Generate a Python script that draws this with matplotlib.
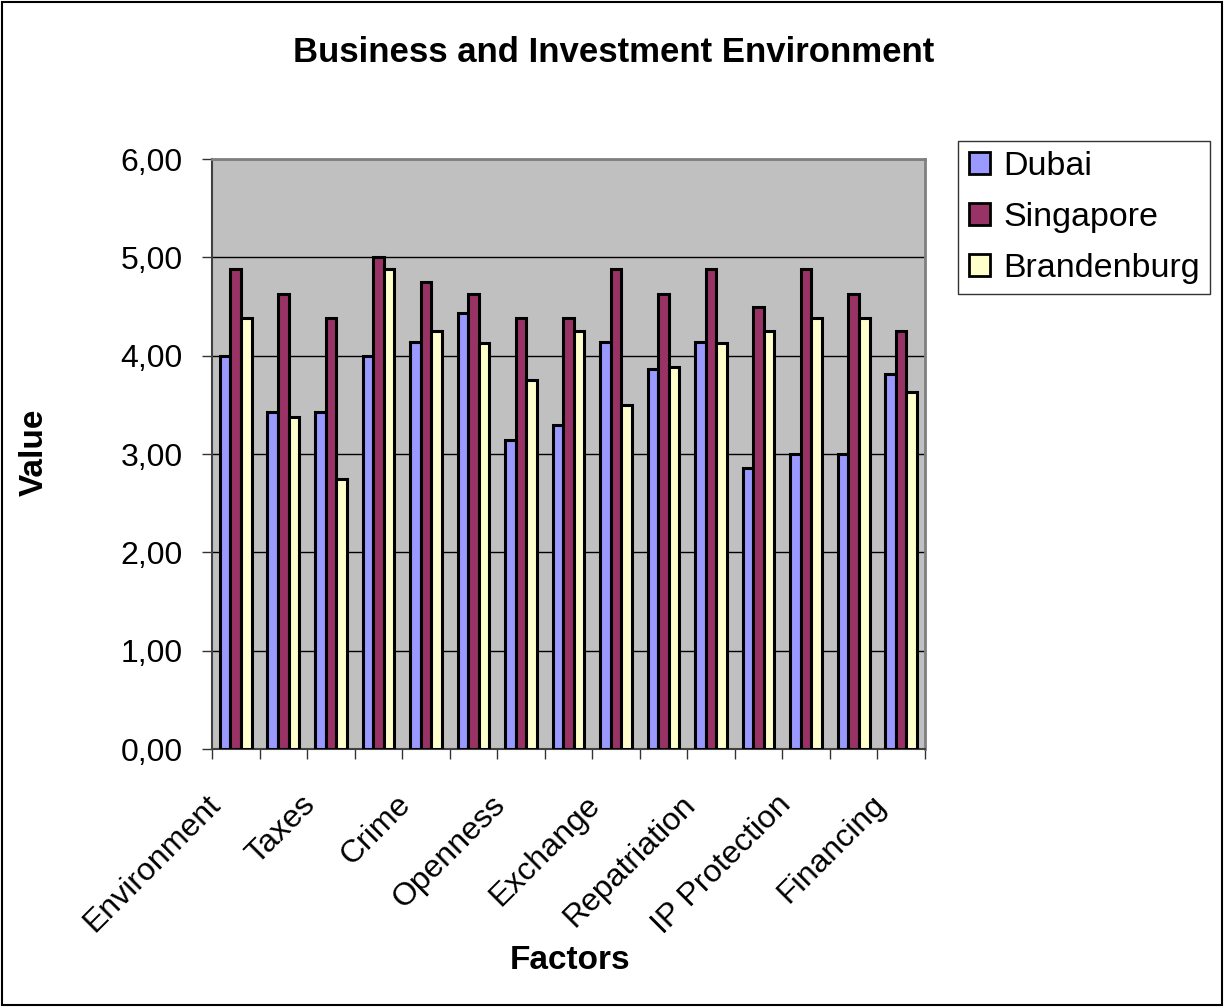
import numpy as np
import matplotlib
matplotlib.use('Agg')
import matplotlib.pyplot as plt
from matplotlib.transforms import ScaledTranslation
from matplotlib.ticker import FuncFormatter

plt.rcParams['font.family'] = ['Liberation Sans', 'DejaVu Sans']

# 15 factors, Excel only shows every second label
labels = ['Environment', '', 'Taxes', '', 'Crime', '', 'Openness', '',
          'Exchange', '', 'Repatriation', '', 'IP Protection', '', 'Financing']
dubai = [4.00, 3.43, 3.43, 4.00, 4.14, 4.43, 3.14, 3.29, 4.14, 3.86,
         4.14, 2.86, 3.00, 3.00, 3.81]
singapore = [4.88, 4.63, 4.38, 5.00, 4.75, 4.63, 4.38, 4.38, 4.88, 4.63,
             4.88, 4.50, 4.88, 4.63, 4.25]
brandenburg = [4.38, 3.38, 2.75, 4.88, 4.25, 4.13, 3.75, 4.25, 3.50, 3.88,
               4.13, 4.25, 4.38, 4.38, 3.63]
series = ['Dubai', 'Singapore', 'Brandenburg']
colors = ['#9999FF', '#993366', '#FFFFCC']

fig = plt.figure(figsize=(12.24, 10.07), dpi=100)
ax = fig.add_axes([0.1732, 0.2562, 0.5825, 0.5859])
ax.set_facecolor('#C0C0C0')

x = np.arange(len(labels))
w = 0.2222
for i, (vals, name, c) in enumerate(zip([dubai, singapore, brandenburg], series, colors)):
    ax.bar(x + (i - 1) * w, vals, w, color=c, edgecolor='black', linewidth=2.2,
           label=name, zorder=3)

ax.set_xlim(-0.5, len(labels) - 0.5)
ax.set_ylim(0, 6)
ax.set_yticks(np.arange(0, 7, 1))
ax.yaxis.set_major_formatter(FuncFormatter(lambda v, p: ('%.2f' % v).replace('.', ',')))
ax.yaxis.grid(True, color='black', linewidth=1, zorder=1)
ax.set_axisbelow(True)

# tick marks between categories, labels at the centres
ax.set_xticks(np.arange(-0.5, len(labels), 1))
ax.set_xticklabels([])
ax.set_xticks(x, minor=True)
ax.set_xticklabels(labels, minor=True, rotation=45, ha='right', va='center',
                   rotation_mode='anchor', fontsize=23)
ax.tick_params(axis='x', which='major', direction='out', length=7, width=1, color='#333333')
ax.tick_params(axis='x', which='minor', length=0, pad=37)
ax.tick_params(axis='y', direction='out', length=7, width=1, color='#333333',
               labelsize=23, pad=14)
for lbl in ax.get_xticklabels(minor=True):
    lbl.set_transform(lbl.get_transform() + ScaledTranslation(-0.20, 0, fig.dpi_scale_trans))

for s in ['top', 'right']:
    ax.spines[s].set_color('#808080')
    ax.spines[s].set_linewidth(2)
for s in ['left', 'bottom']:
    ax.spines[s].set_color('#404040')
    ax.spines[s].set_linewidth(1.5)

fig.text(0.501, 0.948, 'Business and Investment Environment', ha='center', va='center',
         fontsize=25, fontweight='bold')
fig.text(0.466, 0.046, 'Factors', ha='center', va='center', fontsize=24, fontweight='bold')
fig.text(0.028, 0.551, 'Value', ha='center', va='center', rotation=90,
         fontsize=24, fontweight='bold')

leg = fig.legend(loc='upper left', bbox_to_anchor=(0.783, 0.860), fontsize=24.5,
                 frameon=True, fancybox=False, edgecolor='black', handlelength=0.62,
                 handleheight=0.62, handletextpad=0.4, labelspacing=0.58,
                 borderpad=0.3, borderaxespad=0)
leg.get_frame().set_linewidth(1)
for h in leg.legend_handles:
    h.set_linewidth(2)

# border around the chart area
fig.patches.append(plt.Rectangle((0.002, 0.002), 0.996, 0.996, transform=fig.transFigure,
                                 fill=False, edgecolor='black', linewidth=1.5))

fig.savefig('out.png', dpi=100)
